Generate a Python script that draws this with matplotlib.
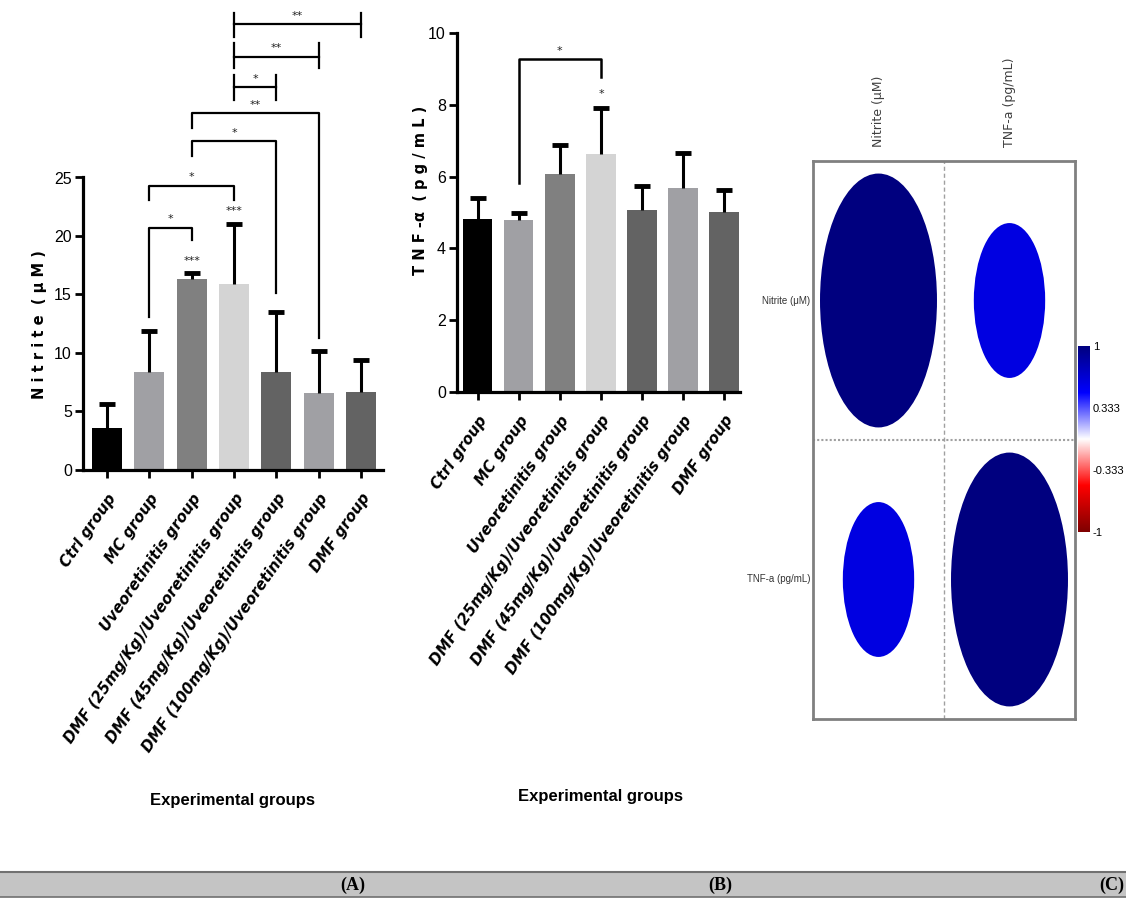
import numpy as np
import matplotlib
matplotlib.use("Agg")
import matplotlib.pyplot as plt
from matplotlib import font_manager
from matplotlib.patches import Ellipse, Rectangle
from matplotlib.colors import LinearSegmentedColormap, Normalize

# Data
groups = ["Ctrl group", "MC group", "Uveoretinitis group",
          "DMF (25mg/Kg)/Uveoretinitis group",
          "DMF (45mg/Kg)/Uveoretinitis group",
          "DMF (100mg/Kg)/Uveoretinitis group",
          "DMF group"]
nitrite_mean = [3.6, 8.4, 16.3, 15.9, 8.4, 6.6, 6.7]
nitrite_err = [2.0, 3.5, 0.5, 5.1, 5.1, 3.6, 2.7]
tnf_mean = [4.83, 4.78, 6.08, 6.62, 5.08, 5.68, 5.02]
tnf_err = [0.57, 0.22, 0.80, 1.28, 0.67, 0.97, 0.60]
bar_colors = ["#000000", "#a0a0a4", "#808080", "#d4d4d4", "#636363", "#a0a0a4", "#636363"]

# significance brackets: (i, j, height, left leg end, right leg end, label)
nitrite_legs = [(1, 2, 20.7, 13.1, 19.7, "*"),
                (1, 3, 24.3, 23.1, 23.1, "*"),
                (2, 4, 28.1, 26.8, 15.1, "*"),
                (2, 5, 30.5, 29.2, 11.3, "**")]
# capped brackets: (i, j, height, cap low, cap high, label)
nitrite_caps = [(3, 4, 32.7, 31.6, 33.8, "*"),
                (3, 5, 35.3, 34.4, 36.5, "**"),
                (3, 6, 38.1, 37.0, 39.1, "**")]
nitrite_bar_stars = [(2, 17.4, "***"), (3, 21.7, "***")]
tnf_legs = [(1, 3, 9.28, 5.82, 8.77, "*")]
tnf_bar_stars = [(3, 8.16, "*")]

corr_labels = ["Nitrite (\u03bcM)", "TNF-a (pg/mL)"]
corr = np.array([[1.0, 0.61], [0.61, 1.0]])
cbar_ticks = [1, 0.333, -0.333, -1]

names = {f.name for f in font_manager.fontManager.ttflist}
narrow = "Liberation Sans Narrow" if "Liberation Sans Narrow" in names else "Liberation Sans"

W, H = 1126, 899
fig = plt.figure(figsize=(W / 100, H / 100), dpi=100)


def box(x0, y0, x1, y1):
    # pixel box (top-left origin) -> figure fraction rect
    return [x0 / W, 1 - y1 / H, (x1 - x0) / W, (y1 - y0) / H]


def style_bar_axes(ax, n):
    for s in ["top", "right"]:
        ax.spines[s].set_visible(False)
    for s in ["left", "bottom"]:
        ax.spines[s].set_linewidth(2.3)
    ax.tick_params(axis="both", width=2, length=6, direction="out")
    ax.set_xticks(range(n))
    ax.set_xticklabels(groups, rotation=55, ha="right", rotation_mode="anchor",
                       fontsize=10.8, fontweight="bold", fontstyle="italic",
                       family="DejaVu Sans")
    ax.tick_params(axis="x", pad=9)
    ax.tick_params(axis="y", pad=2)
    for lab in ax.get_yticklabels():
        lab.set_family(narrow)
        lab.set_fontsize(11.5)


def bars(ax, mean, err):
    x = np.arange(len(mean))
    ax.bar(x, mean, width=0.71, color=bar_colors, edgecolor="none", zorder=2)
    _, caps, _ = ax.errorbar(x, mean, yerr=[np.zeros(len(err)), err], fmt="none",
                             ecolor="black", elinewidth=2.2, capsize=6, capthick=3.5,
                             zorder=3)
    caps[0].set_visible(False)  # only the upper caps


def star(ax, x, y, s):
    ax.text(x, y, s, ha="center", va="bottom", fontsize=8, color="#222222")


# ---------------- Panel A ----------------
axA = fig.add_axes(box(83, 2, 383, 470))
bars(axA, nitrite_mean, nitrite_err)
axA.set_xlim(-0.57, 6.52)
axA.set_ylim(0, 40)
axA.set_yticks([0, 5, 10, 15, 20, 25])
axA.spines["left"].set_bounds(0, 25)
style_bar_axes(axA, len(groups))
for i, j, h, li, lj, s in nitrite_legs:
    axA.plot([i, i, j, j], [li, h, h, lj], color="black", lw=1.6)
    star(axA, (i + j) / 2, h + 0.3, s)
for i, j, h, lo, hi, s in nitrite_caps:
    axA.plot([i, j], [h, h], color="black", lw=1.6)
    axA.plot([i, i], [lo, hi], color="black", lw=1.6)
    axA.plot([j, j], [lo, hi], color="black", lw=1.6)
    star(axA, (i + j) / 2, h + 0.3, s)
for i, y, s in nitrite_bar_stars:
    star(axA, i, y, s)

fig.text(40 / W, 1 - 325 / H, "N i t r i t e  ( \u03bc M )", rotation=90,
         ha="center", va="center", fontsize=10.5, fontweight="bold")
fig.text(232 / W, 1 - 800 / H, "Experimental groups", ha="center", va="center",
         fontsize=12, fontweight="bold", family=narrow)

# ---------------- Panel B ----------------
axB = fig.add_axes(box(457, 33, 740, 392))
bars(axB, tnf_mean, tnf_err)
axB.set_xlim(-0.51, 6.39)
axB.set_ylim(0, 10)
axB.set_yticks([0, 2, 4, 6, 8, 10])
style_bar_axes(axB, len(groups))
for i, j, h, li, lj, s in tnf_legs:
    axB.plot([i, i, j, j], [li, h, h, lj], color="black", lw=1.8)
    star(axB, (i + j) / 2, h + 0.08, s)
for i, y, s in tnf_bar_stars:
    star(axB, i, y, s)

fig.text(420 / W, 1 - 190 / H, "T N F -\u03b1  ( p g / m L )", rotation=90,
         ha="center", va="center", fontsize=10.5, fontweight="bold")
fig.text(600 / W, 1 - 797 / H, "Experimental groups", ha="center", va="center",
         fontsize=12, fontweight="bold", family=narrow)

# ---------------- Panel C ----------------
cmap = LinearSegmentedColormap.from_list(
    "corr", ["#7f0000", "#ff0000", "#ffffff", "#0000ff", "#00007f"])
norm = Normalize(-1, 1)
axC = fig.add_axes(box(813, 161, 1075, 719))
n = len(corr_labels)
axC.set_xlim(0, n)
axC.set_ylim(n, 0)
for i in range(n):
    for j in range(n):
        r = corr[i, j]
        axC.add_patch(Ellipse((j + 0.5, i + 0.5), 0.893 * abs(r), 0.91 * abs(r),
                              facecolor=cmap(norm(r)), edgecolor="none"))
for k in range(1, n):
    axC.axvline(k, color="#a0a0a0", lw=1, ls=(0, (3, 2)))
    axC.axhline(k, color="#a0a0a0", lw=1.5, ls=(0, (1, 1)))
axC.set_xticks([])
axC.set_yticks([])
for s in axC.spines.values():
    s.set_color("#808080")
    s.set_linewidth(2)
for j, lab in enumerate(corr_labels):
    axC.text(j + 0.5, -0.05, lab, rotation=90, ha="center", va="bottom",
             fontsize=9, color="#404040", family="DejaVu Sans")
    axC.text(-0.02, j + 0.5, lab, ha="right", va="center",
             fontsize=7, color="#333333", family=narrow)

axCB = fig.add_axes(box(1078, 346, 1090, 532))
grad = np.linspace(1, -1, 256).reshape(-1, 1)
axCB.imshow(grad, cmap=cmap, norm=norm, aspect="auto", extent=[0, 1, -1, 1])
axCB.set_xticks([])
axCB.yaxis.tick_right()
axCB.set_yticks(cbar_ticks)
axCB.set_yticklabels([str(t) for t in cbar_ticks], fontsize=8, family=narrow)
axCB.tick_params(axis="y", length=0, pad=2)
for s in axCB.spines.values():
    s.set_visible(False)

# ---------------- bottom caption strip ----------------
fig.patches.append(Rectangle((0, 1 - 897 / H), 1, 25 / H, transform=fig.transFigure,
                             facecolor="#c4c4c4", edgecolor="none"))
fig.add_artist(plt.Line2D([0, 1], [1 - 872 / H] * 2, transform=fig.transFigure,
                          color="#707070", lw=1.5))
fig.add_artist(plt.Line2D([0, 1], [1 - 897 / H] * 2, transform=fig.transFigure,
                          color="#707070", lw=1.2))
for lab, px in [("(A)", 353), ("(B)", 720), ("(C)", 1112)]:
    fig.text(px / W, 1 - 885 / H, lab, ha="center", va="center", fontsize=13,
             fontweight="bold", family="Liberation Serif")

fig.savefig("out.png", dpi=100)
